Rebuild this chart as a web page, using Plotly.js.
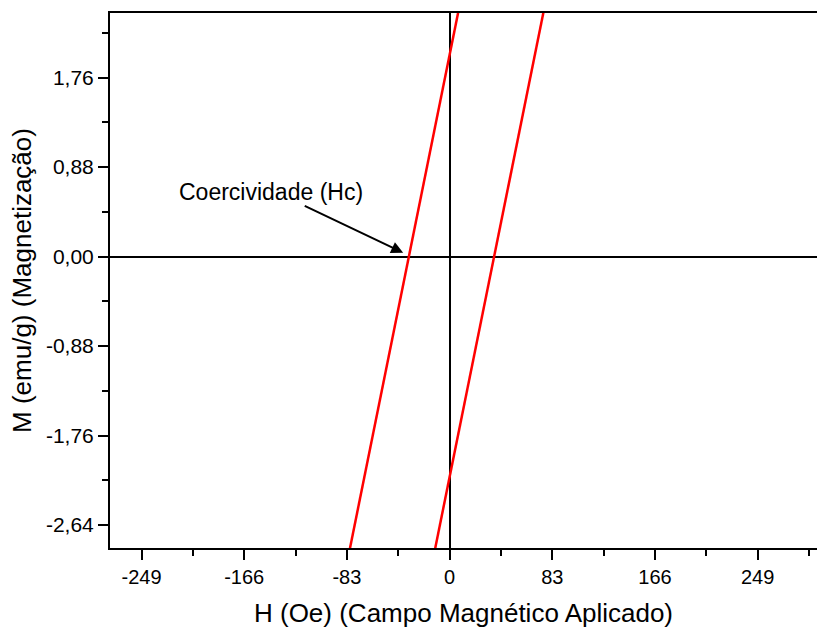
<!DOCTYPE html>
<html>
<head>
<meta charset="utf-8">
<script src="https://cdn.plot.ly/plotly-3.0.1.min.js"></script>
<style>html,body{margin:0;padding:0;background:#fff;}#chart{width:817px;height:628px;}</style>
</head>
<body>
<div id="chart"></div>
<script>
// Descending branch (left line)
const descH = [-82.7, -57.8, -32.9, -8.0, 8.6];
const descM = [-3.0, -1.5, 0.0, 1.5, 2.5];
// Ascending branch (right line)
const ascH = [-13.8, 11.1, 36.0, 60.9, 77.5];
const ascM = [-3.0, -1.5, 0.0, 1.5, 2.5];

const xTickVals = [-249, -166, -83, 0, 83, 166, 249];
const xTickText = ['-249', '-166', '-83', '0', '83', '166', '249'];
const yTickVals = [-2.64, -1.76, -0.88, 0, 0.88, 1.76];
const yTickText = ['-2,64', '-1,76', '-0,88', '0,00', '0,88', '1,76'];

const font = 'Liberation Sans, Arial, sans-serif';

const traces = [
  {x: descH, y: descM, mode: 'lines', line: {color: '#ff0000', width: 2.5}, showlegend: false, hoverinfo: 'skip'},
  {x: ascH, y: ascM, mode: 'lines', line: {color: '#ff0000', width: 2.5}, showlegend: false, hoverinfo: 'skip'}
];

const layout = {
  width: 817, height: 628,
  margin: {l: 110, r: 0, t: 13, b: 80},
  paper_bgcolor: '#fff', plot_bgcolor: '#fff',
  font: {family: font, color: '#000'},
  showlegend: false,
  xaxis: {
    range: [-274.5, 297], showgrid: false,
    zeroline: true, zerolinecolor: '#000', zerolinewidth: 2,
    showline: true, linecolor: '#000', linewidth: 2, mirror: true,
    ticks: 'outside', ticklen: 10, tickwidth: 2, tickcolor: '#000',
    tickvals: xTickVals, ticktext: xTickText,
    tickfont: {size: 20, family: font, color: '#000'},
    minor: {dtick: 41.5, tick0: 0, ticks: 'outside', ticklen: 6, tickwidth: 2, tickcolor: '#000', showgrid: false},
    title: {text: 'H (Oe) (Campo Magnético Aplicado)', font: {size: 26, family: font, color: '#000'}, standoff: 19}
  },
  yaxis: {
    range: [-2.866, 2.395], showgrid: false,
    zeroline: true, zerolinecolor: '#000', zerolinewidth: 2,
    showline: true, linecolor: '#000', linewidth: 2, mirror: true,
    ticks: 'outside', ticklen: 10, tickwidth: 2, tickcolor: '#000',
    tickvals: yTickVals, ticktext: yTickText,
    tickfont: {size: 21, family: font, color: '#000'},
    minor: {dtick: 0.44, tick0: 0, ticks: 'outside', ticklen: 6, tickwidth: 2, tickcolor: '#000', showgrid: false},
    title: {text: 'M (emu/g) (Magnetização)', font: {size: 26, family: font, color: '#000'}, standoff: 7}
  },
  annotations: [
    {x: -144, y: 0.637, xref: 'x', yref: 'y', text: 'Coercividade (Hc)', showarrow: false,
     font: {size: 23, family: font, color: '#000'}},
    {x: -37.5, y: 0.037, xref: 'x', yref: 'y', ax: -118.3, ay: 0.506, axref: 'x', ayref: 'y',
     text: '', showarrow: true, arrowhead: 2, arrowsize: 1.2, arrowwidth: 2, arrowcolor: '#000'}
  ]
};

Plotly.newPlot('chart', traces, layout, {displayModeBar: false, staticPlot: true});
</script>
</body>
</html>
